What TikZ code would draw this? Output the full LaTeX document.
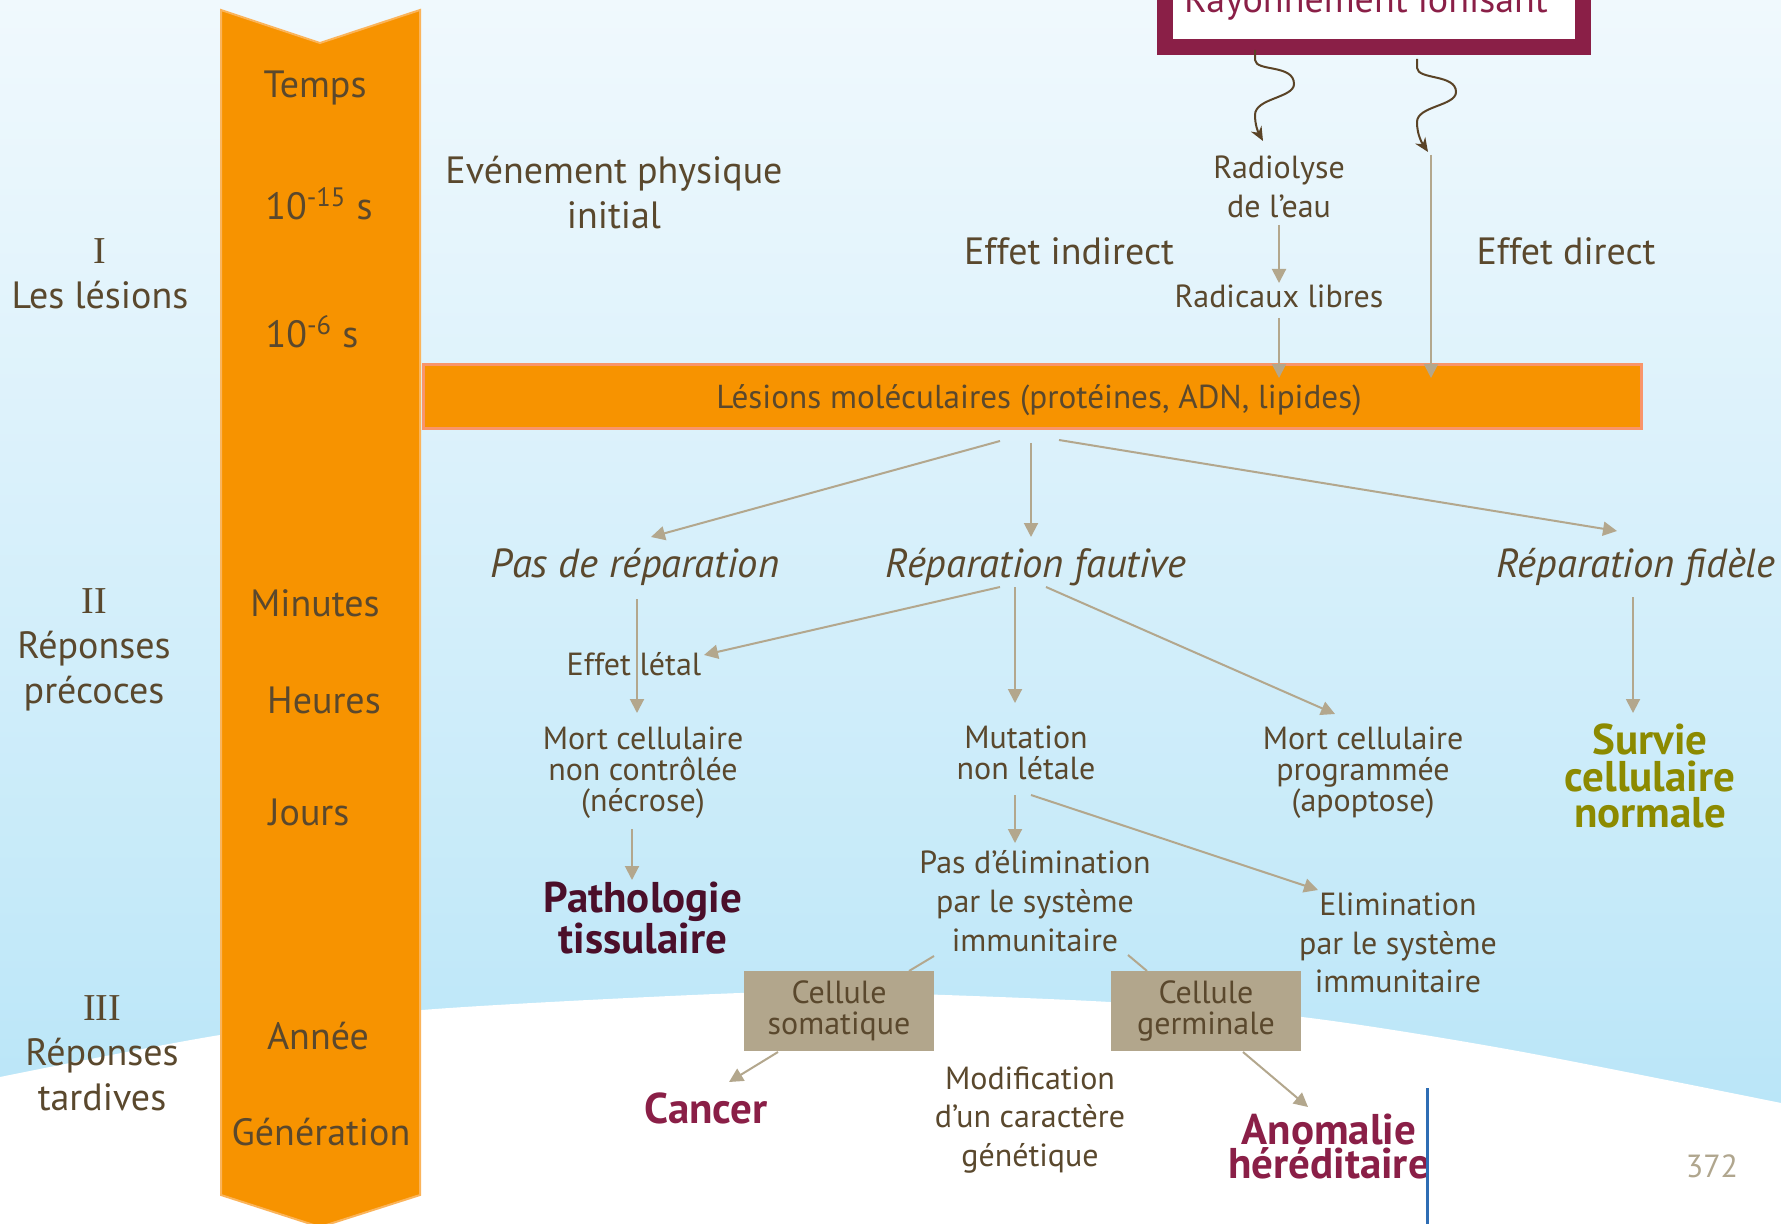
\documentclass[tikz,border=0pt]{standalone}
\usepackage{fontspec}
\setmainfont{PT Sans}
\newfontfamily\numfont{Liberation Serif}
\usetikzlibrary{arrows.meta}
\definecolor{txt}{HTML}{5A482D}
\definecolor{org}{HTML}{F79300}
\definecolor{orgedge}{HTML}{FBB45A}
\definecolor{baredge}{HTML}{F9956A}
\definecolor{arrc}{HTML}{B3A78D}
\definecolor{boxc}{HTML}{B2A68C}
\definecolor{mag}{HTML}{8A1F47}
\definecolor{darkmaroon}{HTML}{4B0F2A}
\definecolor{olivetxt}{HTML}{8C8A00}
\definecolor{bgblue}{HTML}{9ADAF6}
\definecolor{bgmid}{HTML}{C6EAF9}
\definecolor{bglight}{HTML}{E6F5FC}
\definecolor{blueline}{HTML}{2E6DB4}
\definecolor{pgnum}{HTML}{B0A68E}
\definecolor{squig}{HTML}{5A4326}
\pgfdeclareverticalshading{bgsh}{100bp}{color(0bp)=(bgblue); color(35bp)=(bgmid); color(65bp)=(bglight); color(90bp)=(white); color(100bp)=(white)}
\tikzset{
  big/.style={text=txt, font=\fontsize{19}{22.5}\selectfont, inner sep=0pt, align=center},
  bigit/.style={text=txt, font=\fontsize{20.3}{22.5}\selectfont\itshape, inner sep=0pt, align=center},
  med/.style={text=txt, font=\fontsize{16}{19.4}\selectfont, inner sep=0pt, align=center},
  medtight/.style={text=txt, font=\fontsize{16}{15.5}\selectfont, inner sep=0pt, align=center},
  boldtxt/.style={font=\fontsize{21.5}{18}\selectfont\bfseries, inner sep=0pt, align=center},
  cellbox/.style={fill=boxc, text=txt, font=\fontsize{16}{15.5}\selectfont, inner sep=0pt, align=center, minimum width=95pt, minimum height=40pt},
  arr/.style={draw=arrc, line width=1pt, -{Triangle[length=7pt,width=7pt]}},
  plainline/.style={draw=arrc, line width=1pt},
  wavy/.style={draw=squig, line width=1pt, -{Stealth[length=7pt,width=6pt]}}
}
\begin{document}
\begin{tikzpicture}[x=0.5pt, y=-0.5pt]
\useasboundingbox (0,0) rectangle (1781,1224);
% background
\shade[shading=bgsh] (0,0) rectangle (1781,1110);
\fill[white] plot[smooth] coordinates {(0,1077) (220,1035) (422,1010) (740,993) (880,993) (1110,1002) (1302,1017) (1512,1050) (1781,1103)} -- (1781,1224) -- (0,1224) -- cycle;
% time band
\fill[org, draw=orgedge, line width=1pt] (221,10) -- (320,43) -- (420,10) -- (420,1195) -- (320,1227) -- (221,1195) -- cycle;
% molecular lesions bar
\node[fill=org, draw=baredge, line width=1.5pt, minimum width=609pt, minimum height=32pt, inner sep=0pt, anchor=north west] (bar) at (422,363) {};
\node[text=txt, font=\fontsize{16.6}{19.4}\selectfont, inner sep=0pt] (bartxt) at (1039,400) {Lésions moléculaires (protéines, ADN, lipides)};
% radiation box
\fill[mag] (1157,-60) rectangle (1591,55);
\fill[white] (1173,-60) rectangle (1575,39);
\node[text=mag, font=\fontsize{19}{22.5}\selectfont, inner sep=0pt, anchor=base] (ray) at (1366,13) {Rayonnement ionisant};
% band labels
\node[big] (temps) at (315,88) {Temps};
\node[big] (t15) at (319,204) {10\textsuperscript{-15} s};
\node[big] (t6) at (312,332) {10\textsuperscript{-6} s};
\node[big] (minutes) at (315,603) {Minutes};
\node[big] (heures) at (324,700) {Heures};
\node[big] (jours) at (309,812) {Jours};
\node[big] (annee) at (318,1036) {Année};
\node[big] (gen) at (321,1132) {Génération};
% phases
\node[big] (ph1) at (100,274) {{\numfont I}\\Les lésions};
\node[big] (ph2) at (94,650) {{\numfont II}\\Réponses\\précoces};
\node[big] (ph3) at (102,1053) {{\numfont III}\\Réponses\\tardives};
% top texts
\node[big] (evt) at (614,193) {Evénement physique\\initial};
\node[med] (radio) at (1279,187) {Radiolyse\\de l’eau};
\node[med] (radic) at (1279,296) {Radicaux libres};
\node[big] (indir) at (1069,251) {Effet indirect};
\node[big] (dir) at (1566,251) {Effet direct};
% level II
\node[bigit] (pasrep) at (635,567) {Pas de réparation};
\node[bigit] (faut) at (1036,567) {Réparation fautive};
\node[bigit] (fid) at (1636,567) {Réparation fidèle};
\node[med] (letal) at (634,664) {Effet létal};
\node[medtight] (necro) at (643,773) {Mort cellulaire\\non contrôlée\\(nécrose)};
\node[medtight] (mutat) at (1026,753) {Mutation\\non létale};
\node[medtight] (apopt) at (1363,773) {Mort cellulaire\\programmée\\(apoptose)};
\node[boldtxt, text=olivetxt, font=\fontsize{21.5}{18.3}\selectfont\bfseries] (surv) at (1650,776) {Survie\\cellulaire\\normale};
\node[boldtxt, text=darkmaroon] (patho) at (643,918) {Pathologie\\tissulaire};
\node[med] (noelim) at (1035,901) {Pas d’élimination\\par le système\\immunitaire};
\node[med] (elim) at (1398,943) {Elimination\\par le système\\immunitaire};
% level III
\node[cellbox] (soma) at (839,1011) {Cellule\\somatique};
\node[cellbox] (germ) at (1206,1011) {Cellule\\germinale};
\node[boldtxt, text=mag] (cancer) at (706,1108) {Cancer};
\node[med] (modif) at (1030,1120) {Modification\\d’un caractère\\génétique};
\node[boldtxt, text=mag, font=\fontsize{21.5}{17}\selectfont\bfseries] (anom) at (1329,1147) {Anomalie\\héréditaire};
\node[med, text=pgnum] (pagenum) at (1712,1166) {372};
% connector end points
\coordinate (wl1) at (1255,50);
\coordinate (wl2) at (1263,141);
\coordinate (wr1) at (1417,59);
\coordinate (wr2) at (1428,152);
\coordinate (radioS) at (1279,225);
\coordinate (radicN) at (1279,283);
\coordinate (radicS) at (1279,318);
\coordinate (barInd) at (1279,378);
\coordinate (dirTop) at (1431,155);
\coordinate (barDir) at (1431,378);
\coordinate (barS1) at (1000,441);
\coordinate (barS2) at (1031,443);
\coordinate (barS3) at (1059,440);
\coordinate (pasrepN) at (651,537);
\coordinate (fautN) at (1031,537);
\coordinate (fidN) at (1617,531);
\coordinate (pasrepS) at (637,599);
\coordinate (necroN) at (637,713);
\coordinate (fautS1) at (1000,587);
\coordinate (fautS2) at (1015,587);
\coordinate (fautS3) at (1046,587);
\coordinate (letalE) at (704,655);
\coordinate (mutatN) at (1015,703);
\coordinate (apoptN) at (1335,714);
\coordinate (fidS) at (1633,597);
\coordinate (survN) at (1633,713);
\coordinate (necroS) at (632,829);
\coordinate (pathoN) at (632,880);
\coordinate (mutatS1) at (1015,795);
\coordinate (mutatS2) at (1031,795);
\coordinate (noelimN) at (1015,843);
\coordinate (elimN) at (1318,890);
\coordinate (noelimSW) at (934,956);
\coordinate (somaN) at (909,971);
\coordinate (noelimSE) at (1128,955);
\coordinate (germN) at (1147,971);
\coordinate (somaS) at (778,1052);
\coordinate (cancerN) at (729,1082);
\coordinate (germS) at (1243,1052);
\coordinate (anomN) at (1308,1107);
\coordinate (blueT) at (1427,1088);
\coordinate (blueB) at (1427,1226);
% wavy arrows
\draw[wavy] (wl1) -- (1255,60) .. controls (1256,72) and (1294,64) .. (1294,84) .. controls (1294,98) and (1255,98) .. (1255,115) .. controls (1255,125) and (1258,132) .. (wl2);
\draw[wavy] (wr1) -- (1417,68) .. controls (1418,80) and (1456,74) .. (1456,92) .. controls (1456,106) and (1417,106) .. (1417,122) .. controls (1417,135) and (1422,143) .. (wr2);
% connectors
\draw[arr] (radioS) -- (radicN);
\draw[arr] (radicS) -- (barInd);
\draw[arr] (dirTop) -- (barDir);
\draw[arr] (barS1) -- (pasrepN);
\draw[arr] (barS2) -- (fautN);
\draw[arr] (barS3) -- (fidN);
\draw[arr] (pasrepS) -- (necroN);
\draw[arr] (fautS1) -- (letalE);
\draw[arr] (fautS2) -- (mutatN);
\draw[arr] (fautS3) -- (apoptN);
\draw[arr] (fidS) -- (survN);
\draw[arr] (necroS) -- (pathoN);
\draw[arr] (mutatS1) -- (noelimN);
\draw[arr] (mutatS2) -- (elimN);
\draw[plainline] (noelimSW) -- (somaN);
\draw[plainline] (noelimSE) -- (germN);
\draw[arr] (somaS) -- (cancerN);
\draw[arr] (germS) -- (anomN);
\draw[draw=blueline, line width=1.5pt] (blueT) -- (blueB);
\end{tikzpicture}
\end{document}
